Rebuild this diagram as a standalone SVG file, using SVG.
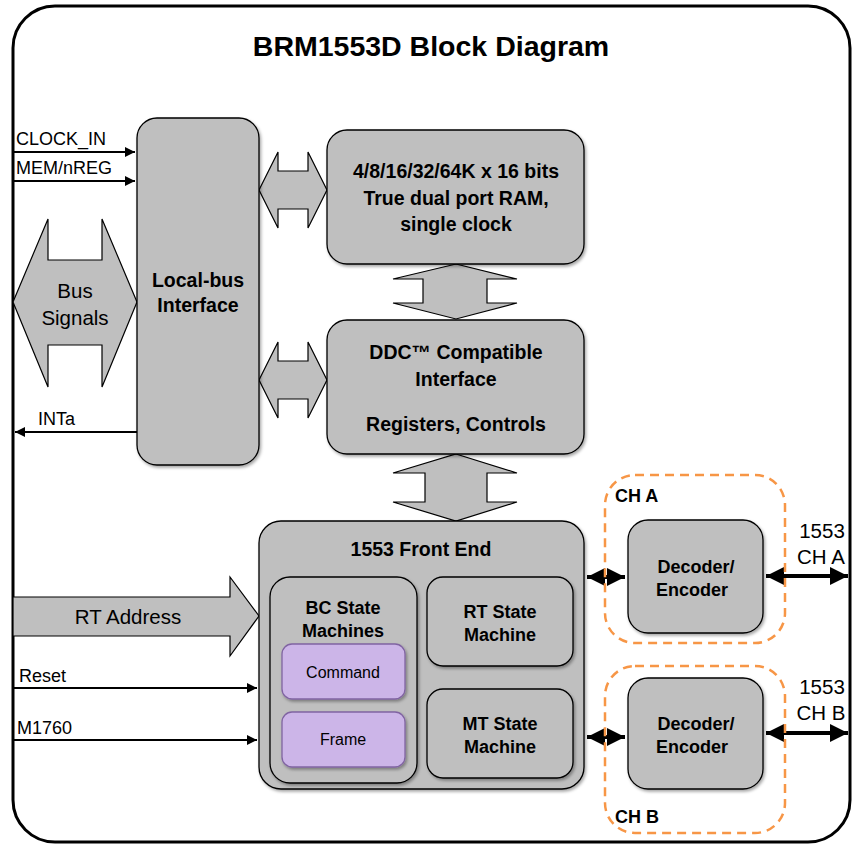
<svg xmlns="http://www.w3.org/2000/svg" width="860" height="844" viewBox="0 0 860 844">
<style>
text{font-family:"Liberation Sans",Arial,sans-serif;fill:#000}
.t{font-weight:bold;font-size:28.5px}
.b{font-weight:bold;font-size:19.5px}
.bs{font-weight:bold;font-size:18px}
.r{font-size:18px}
.rl{font-size:20.5px}
.sm{font-size:16px}
.box{fill:#bfbfbf;stroke:#000;stroke-width:1.3}
.purp{fill:#ccb5e8;stroke:#8064a2;stroke-width:1.3}
.fat{fill:#bfbfbf;stroke:#000;stroke-width:1.2}
.wire{stroke:#000;stroke-width:2;fill:none}
.thick{stroke:#000;stroke-width:4;fill:none}
.dash{fill:none;stroke:#f79646;stroke-width:2.5;stroke-dasharray:9 6}
</style>
<defs>
<marker id="ah" viewBox="0 0 10 10" refX="10" refY="5" markerWidth="5" markerHeight="5" orient="auto-start-reverse" markerUnits="strokeWidth"><path d="M0,0 L10,5 L0,10 z" fill="#000"/></marker>
<marker id="ahT" viewBox="0 0 10 10" refX="10" refY="5" markerWidth="4.5" markerHeight="4.5" orient="auto-start-reverse" markerUnits="strokeWidth"><path d="M0,0 L10,5 L0,10 z" fill="#000"/></marker>
<filter id="sh" x="-10%" y="-10%" width="130%" height="130%"><feDropShadow dx="1.5" dy="2" stdDeviation="1.5" flood-color="#000" flood-opacity="0.35"/></filter>
</defs>

<rect id="frame" x="13" y="6" width="837" height="836" rx="42" fill="#fff" stroke="#000" stroke-width="3"/>
<text class="t" x="431" y="56" text-anchor="middle">BRM1553D Block Diagram</text>

<g id="connectors">
<line class="wire" x1="13" y1="152" x2="135" y2="152" marker-end="url(#ah)"/>
<line class="wire" x1="13" y1="181" x2="135" y2="181" marker-end="url(#ah)"/>
<line class="wire" x1="137" y1="432" x2="15" y2="432" marker-end="url(#ah)"/>
<line class="wire" x1="13" y1="688" x2="257" y2="688" marker-end="url(#ah)"/>
<line class="wire" x1="13" y1="740" x2="257" y2="740" marker-end="url(#ah)"/>
<line class="thick" x1="587" y1="577" x2="625" y2="577" marker-start="url(#ahT)" marker-end="url(#ahT)"/>
<line class="thick" x1="766" y1="576" x2="848" y2="576" marker-start="url(#ahT)" marker-end="url(#ahT)"/>
<line class="thick" x1="587" y1="737" x2="625" y2="737" marker-start="url(#ahT)" marker-end="url(#ahT)"/>
<line class="thick" x1="766" y1="733" x2="848" y2="733" marker-start="url(#ahT)" marker-end="url(#ahT)"/>
<path class="fat" d="M13,302 L48,219 L48,260 L102,260 L102,219 L137,302 L102,387 L102,345 L48,345 L48,387 Z"/>
<path class="fat" d="M259,190 L278,152 L278,171 L308,171 L308,152 L327,190 L308,228 L308,209 L278,209 L278,228 Z"/>
<path class="fat" d="M259,380 L278,342 L278,361 L308,361 L308,342 L327,380 L308,418 L308,399 L278,399 L278,418 Z"/>
<path class="fat" d="M456,264 L517,279 L487,279 L487,303 L517,303 L456,319 L393,303 L423,303 L423,279 L393,279 Z"/>
<path class="fat" d="M456,454 L517,473 L487,473 L487,502 L517,502 L456,521 L393,502 L425,502 L425,473 L393,473 Z"/>
<path class="fat" d="M13,597 L230,597 L230,577 L259,616 L230,656 L230,636 L13,636 Z"/>
</g>
<text class="rl" x="75" y="298" text-anchor="middle">Bus</text>
<text class="rl" x="75" y="325" text-anchor="middle">Signals</text>
<text class="rl" x="128" y="624" text-anchor="middle">RT Address</text>
<text class="r" x="16" y="145">CLOCK_IN</text>
<text class="r" x="16" y="174">MEM/nREG</text>
<text class="r" x="38" y="425">INTa</text>
<text class="r" x="19" y="682">Reset</text>
<text class="r" x="17" y="734">M1760</text>
<text class="rl" x="822" y="538" text-anchor="middle">1553</text>
<text class="rl" x="821" y="564" text-anchor="middle">CH A</text>
<text class="rl" x="822" y="694" text-anchor="middle">1553</text>
<text class="rl" x="821" y="720" text-anchor="middle">CH B</text>

<g id="localbus">
<rect class="box" x="137" y="118" width="122" height="347" rx="20" filter="url(#sh)"/>
<text class="b" x="198" y="287" text-anchor="middle">Local-bus</text>
<text class="b" x="198" y="312" text-anchor="middle">Interface</text>
</g>
<g id="ram">
<rect class="box" x="327" y="130" width="257" height="134" rx="20" filter="url(#sh)"/>
<text class="b" x="456" y="178" text-anchor="middle">4/8/16/32/64K x 16 bits</text>
<text class="b" x="456" y="205" text-anchor="middle">True dual port RAM,</text>
<text class="b" x="456" y="231" text-anchor="middle">single clock</text>
</g>
<g id="ddc">
<rect class="box" x="327" y="320" width="257" height="134" rx="20" filter="url(#sh)"/>
<text class="b" x="456" y="359" text-anchor="middle">DDC™ Compatible</text>
<text class="b" x="456" y="386" text-anchor="middle">Interface</text>
<text class="b" x="456" y="431" text-anchor="middle">Registers, Controls</text>
</g>
<g id="frontend">
<rect class="box" x="259" y="521" width="325" height="268" rx="22" filter="url(#sh)"/>
<text class="b" x="421" y="556" text-anchor="middle">1553 Front End</text>
</g>
<g id="bc">
<rect class="box" x="270" y="577" width="147" height="206" rx="20" filter="url(#sh)"/>
<text class="bs" x="343" y="614" text-anchor="middle">BC State</text>
<text class="bs" x="343" y="637" text-anchor="middle">Machines</text>
</g>
<g id="command">
<rect class="purp" x="282" y="644" width="123" height="55" rx="10" filter="url(#sh)"/>
<text class="sm" x="343" y="678" text-anchor="middle">Command</text>
</g>
<g id="frame-sm">
<rect class="purp" x="282" y="712" width="123" height="55" rx="10" filter="url(#sh)"/>
<text class="sm" x="343" y="745" text-anchor="middle">Frame</text>
</g>
<g id="rt">
<rect class="box" x="427" y="577" width="146" height="89" rx="16" filter="url(#sh)"/>
<text class="bs" x="500" y="618" text-anchor="middle">RT State</text>
<text class="bs" x="500" y="641" text-anchor="middle">Machine</text>
</g>
<g id="mt">
<rect class="box" x="427" y="689" width="146" height="89" rx="16" filter="url(#sh)"/>
<text class="bs" x="500" y="730" text-anchor="middle">MT State</text>
<text class="bs" x="500" y="753" text-anchor="middle">Machine</text>
</g>
<g id="cha">
<rect class="dash" x="605" y="475" width="180" height="168" rx="30"/>
<text class="bs" x="615" y="502">CH A</text>
</g>
<g id="decA">
<rect class="box" x="628" y="520" width="135" height="113" rx="20" filter="url(#sh)"/>
<text class="bs" x="696" y="573" text-anchor="middle">Decoder/</text>
<text class="bs" x="692" y="596" text-anchor="middle">Encoder</text>
</g>
<g id="chb">
<rect class="dash" x="605" y="666" width="180" height="167" rx="30"/>
<text class="bs" x="615" y="823">CH B</text>
</g>
<g id="decB">
<rect class="box" x="628" y="678" width="135" height="111" rx="20" filter="url(#sh)"/>
<text class="bs" x="696" y="730" text-anchor="middle">Decoder/</text>
<text class="bs" x="692" y="753" text-anchor="middle">Encoder</text>
</g>
</svg>
